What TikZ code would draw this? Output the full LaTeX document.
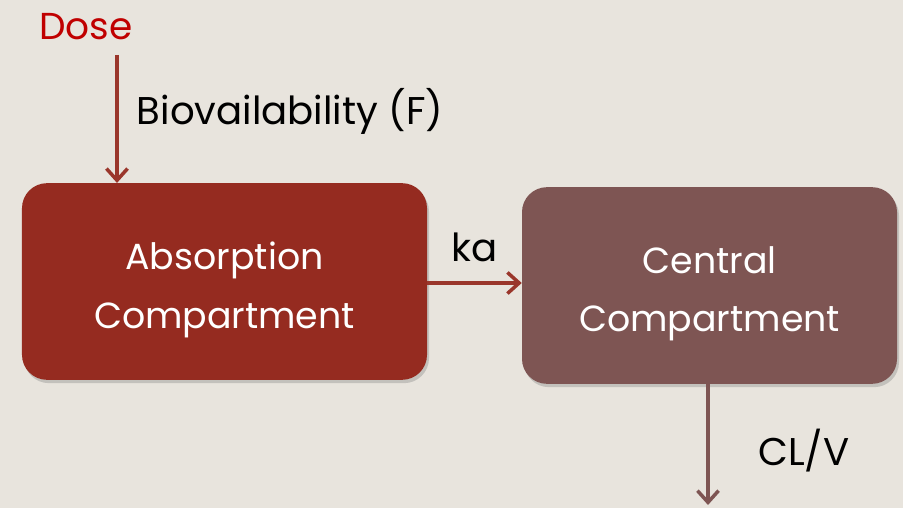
\documentclass[tikz,border=0pt]{standalone}
\usepackage{fontspec}
\setmainfont{Poppins}
\usetikzlibrary{arrows.meta,shadows}
\definecolor{slidebg}{HTML}{E8E4DD}
\definecolor{doseRed}{HTML}{C00000}
\definecolor{absRed}{HTML}{952B20}
\definecolor{cenBrown}{HTML}{7E5553}
\tikzset{
  cmpt/.style={rounded corners=0.75cm, minimum width=12.15cm, minimum height=5.9cm,
    drop shadow={shadow xshift=0.06cm, shadow yshift=-0.1cm, opacity=0.35}},
  cmpttext/.style={text=white, align=center, font=\fontsize{31}{50}\selectfont},
  lbl/.style={font=\fontsize{33}{40}\selectfont},
  flow/.style={line width=3.2pt, -{Straight Barb[length=10pt,width=18pt,line width=3pt]}}
}
\begin{document}
\begin{tikzpicture}[x=0.03cm,y=-0.03cm]
  \fill[slidebg] (0,0) rectangle (903,508);
  \useasboundingbox (0,0) rectangle (903,508);
  % compartments
  \node[cmpt, fill=absRed] (Abs) at (224.5,281.5) {};
  \node[cmpt, fill=cenBrown, minimum width=11.25cm] (Cen) at (709.5,285.5) {};
  \node[cmpttext] (AbsTxt) at ([yshift=-7]Abs.center) {Absorption\\Compartment};
  \node[cmpttext] (CenTxt) at ([yshift=-7]Cen.center) {Central\\Compartment};
  % dose input
  \node[lbl, text=doseRed, font=\fontsize{32}{40}\selectfont] (Dose) at (86,27) {Dose};
  \coordinate (DoseTop) at (117,55);
  \coordinate (Sink) at (708,505);
  \draw[flow, absRed!95!white] (DoseTop) -- (DoseTop |- Abs.north)
    node[lbl, pos=0.44, right=12pt, text=black] (Fbio) {Biovailability (F)};
  \draw[flow, absRed!95!white] (Abs.east |- 0,283) -- (Cen.west |- 0,283)
    node[lbl, midway, above=13pt, text=black] (Ka) {ka};
  \draw[flow, cenBrown] (Cen.south -| Sink) -- (Sink)
    node[lbl, pos=0.55, right=38pt, text=black] (Clv) {CL/V};
\end{tikzpicture}
\end{document}
